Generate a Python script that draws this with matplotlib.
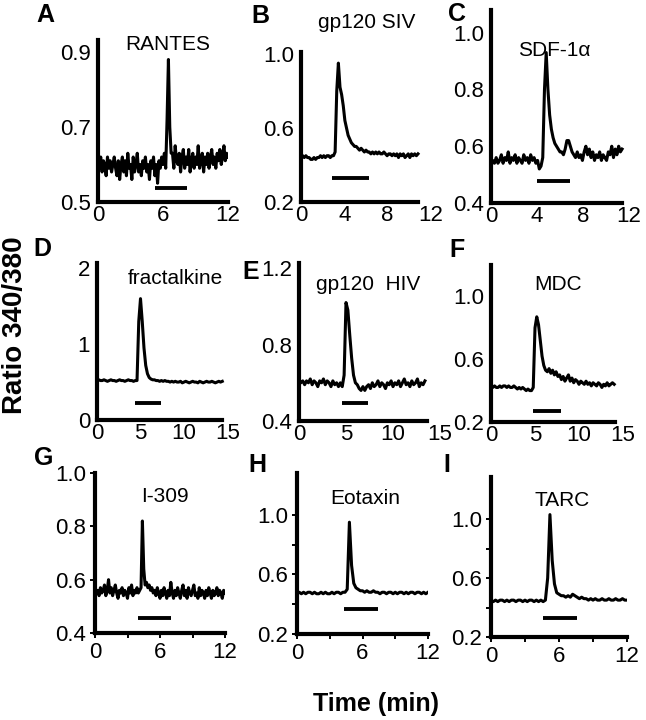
import numpy as np
import matplotlib
matplotlib.use("Agg")
import matplotlib.pyplot as plt

plt.rcParams['font.family'] = ['Liberation Sans', 'DejaVu Sans']

W, H = 646, 720

# ---------------- data (ratio 340/380 traces; uniform sampling step in min) ----------------
a_step = 0.125
a_ratio = [0.64,0.59,0.62,0.58,0.61,0.60,0.57,0.62,0.59,0.61,0.58,0.60,0.62,0.59,0.57,0.61,
           0.56,0.60,0.62,0.58,0.61,0.57,0.63,0.59,0.60,0.56,0.62,0.58,0.60,0.63,0.58,0.60,
           0.57,0.61,0.59,0.62,0.58,0.60,0.56,0.61,0.59,0.62,0.57,0.60,0.55,0.61,0.59,0.62,
           0.60,0.63,0.59,0.72,0.88,0.70,0.63,0.63,0.59,0.65,0.61,0.60,0.63,0.58,0.62,0.64,
           0.59,0.62,0.60,0.64,0.58,0.61,0.63,0.59,0.62,0.60,0.65,0.59,0.61,0.63,0.58,0.62,
           0.60,0.63,0.59,0.62,0.64,0.60,0.62,0.59,0.63,0.61,0.64,0.60,0.62,0.65,0.61,0.63,0.62]

b_step = 0.15
b_ratio = [0.45,0.45,0.44,0.45,0.44,0.44,0.43,0.43,0.44,0.43,0.44,0.44,0.45,0.44,0.45,0.44,0.45,0.45,0.44,0.45,0.45,
           0.47,0.80,0.95,0.82,0.78,0.72,0.64,0.60,0.56,0.54,0.52,0.51,0.50,0.50,0.49,0.48,0.49,0.48,0.47,
           0.48,0.47,0.47,0.46,0.47,0.46,0.47,0.46,0.47,0.46,0.46,0.47,0.46,0.45,0.46,0.46,0.45,0.46,0.45,0.46,
           0.44,0.46,0.45,0.46,0.44,0.45,0.46,0.44,0.46,0.45,0.46,0.45,0.46]

c_step = 0.15
c_ratio = [0.53,0.55,0.54,0.56,0.54,0.55,0.57,0.54,0.56,0.55,0.58,0.54,0.56,0.55,0.57,0.54,0.56,0.55,0.54,0.57,
           0.55,0.56,0.54,0.57,0.55,0.56,0.54,
           0.55,0.52,0.53,0.56,0.80,0.93,0.80,0.71,0.66,0.63,0.61,0.60,0.59,0.58,0.58,0.57,0.59,0.62,0.62,0.60,0.58,
           0.57,0.56,0.58,0.56,0.57,0.55,0.58,0.60,0.57,0.59,0.56,0.58,0.55,0.57,0.56,0.58,0.55,0.57,0.56,0.55,
           0.58,0.57,0.60,0.56,0.59,0.57,0.60,0.58,0.59]

d_step = 0.2
d_ratio = [0.52,0.53,0.52,0.52,0.53,0.52,0.51,0.52,0.53,0.52,0.52,0.51,0.52,0.53,0.52,0.52,0.51,0.52,0.53,0.52,
           0.52,0.51,0.52,
           0.52,1.30,1.60,1.30,0.95,0.72,0.61,0.56,0.54,0.53,
           0.53,0.52,0.52,0.51,0.52,0.51,0.52,0.51,0.51,0.50,0.51,0.50,0.51,0.50,0.50,0.51,0.49,0.50,0.51,0.50,
           0.49,0.50,0.51,0.50,0.50,0.49,0.51,0.50,0.49,0.50,0.51,0.50,0.50,0.51,0.50,0.49,0.50,0.51,0.50,0.51]

e_step = 0.2
e_ratio = [0.62,0.60,0.61,0.59,0.61,0.60,0.62,0.59,0.61,0.60,0.58,0.61,0.60,0.62,0.59,0.61,0.60,0.58,0.61,0.59,
           0.60,0.58,0.60,
           0.58,0.64,1.02,0.98,0.85,0.73,0.64,0.60,0.59,0.57,0.56,0.58,0.56,
           0.58,0.59,0.57,0.60,0.58,0.59,0.61,0.58,0.60,0.59,0.57,0.60,0.59,0.61,0.58,0.60,0.59,0.61,0.58,0.60,
           0.62,0.59,0.60,0.58,0.61,0.59,0.60,0.62,0.58,0.60,0.59,0.61]

f_step = 0.2
f_ratio = [0.43,0.42,0.43,0.42,0.42,0.43,0.42,0.43,0.43,0.42,0.43,0.42,0.42,0.43,0.42,0.41,0.42,0.41,0.42,0.41,
           0.40,0.41,0.40,0.40,
           0.42,0.80,0.87,0.82,0.72,0.62,0.56,0.53,0.52,0.54,0.51,0.53,0.50,0.52,0.49,0.50,
           0.47,0.49,0.46,0.48,0.50,0.46,0.48,0.45,0.47,0.46,0.44,0.46,0.45,0.44,0.46,0.44,0.45,0.43,0.45,0.44,
           0.43,0.45,0.44,0.42,0.44,0.43,0.45,0.43,0.44,0.45,0.44]

g_step = 0.125
g_ratio = [0.57,0.55,0.56,0.54,0.57,0.55,0.56,0.58,0.54,0.56,0.60,0.55,0.57,0.54,0.56,0.58,0.55,0.53,0.56,0.55,
           0.57,0.54,0.56,0.55,0.53,0.57,0.55,0.58,0.54,0.56,0.55,0.57,
           0.55,0.56,0.57,0.82,0.64,0.58,0.59,0.57,
           0.58,0.56,0.57,0.55,0.56,0.54,0.57,0.55,0.53,0.56,0.54,0.57,0.55,0.53,0.56,0.54,0.59,0.55,0.53,0.56,
           0.54,0.57,0.55,0.53,0.56,0.58,0.54,0.56,0.53,0.57,0.55,0.54,0.56,0.58,0.54,0.55,0.53,0.57,0.54,0.56,
           0.55,0.53,0.56,0.54,0.57,0.55,0.53,0.56,0.54,0.55,0.57,0.54,0.56,0.55,0.53,0.56,0.55]

h_step = 0.2
h_ratio = [0.48,0.48,0.47,0.48,0.47,0.48,0.48,0.47,0.48,0.47,0.47,0.48,0.47,0.48,0.47,0.47,0.48,0.47,0.48,0.48,
           0.47,0.48,0.48,
           0.50,0.95,0.66,0.54,0.51,0.50,0.49,
           0.49,0.48,0.49,0.48,0.48,0.49,0.48,0.48,0.47,0.48,0.48,0.47,0.48,0.48,0.47,0.48,0.47,0.48,0.48,0.47,
           0.48,0.47,0.48,0.48,0.47,0.48,0.48,0.47,0.48,0.47,0.48]

i_step = 0.2
i_ratio = [0.44,0.44,0.45,0.44,0.45,0.45,0.44,0.45,0.44,0.45,0.45,0.44,0.45,0.45,0.44,0.45,0.44,0.45,0.45,0.44,
           0.45,0.44,0.45,0.44,0.45,
           0.60,1.03,0.72,0.56,0.50,
           0.49,0.48,0.48,0.47,0.48,0.47,0.49,0.48,0.47,0.46,0.47,0.46,0.46,0.45,0.46,0.45,0.46,0.45,0.45,0.46,
           0.45,0.45,0.46,0.45,0.45,0.46,0.45,0.45,0.46,0.45,0.45]

# stimulus bars: (start min, end min, y level)
stim_bars = {
    'A': (5.26, 8.2, 0.537), 'B': (2.9, 6.3, 0.33), 'C': (4.0, 6.9, 0.478),
    'D': (4.4, 7.4, 0.22), 'E': (4.6, 7.3, 0.494), 'F': (4.8, 8.0, 0.27),
    'G': (4.0, 7.0, 0.457), 'H': (4.3, 7.4, 0.37), 'I': (4.6, 7.6, 0.33),
}

titles = {'A': 'RANTES', 'B': 'gp120 SIV', 'C': 'SDF-1\u03b1', 'D': 'fractalkine',
          'E': 'gp120  HIV', 'F': 'MDC', 'G': 'I-309', 'H': 'Eotaxin', 'I': 'TARC'}

yticks = {'A': ([0.5, 0.7, 0.9], ['0.5', '0.7', '0.9']),
          'B': ([0.2, 0.6, 1.0], ['0.2', '0.6', '1.0']),
          'C': ([0.4, 0.6, 0.8, 1.0], ['0.4', '0.6', '0.8', '1.0']),
          'D': ([0, 1, 2], ['0', '1', '2']),
          'E': ([0.4, 0.8, 1.2], ['0.4', '0.8', '1.2']),
          'F': ([0.2, 0.6, 1.0], ['0.2', '0.6', '1.0']),
          'G': ([0.4, 0.6, 0.8, 1.0], ['0.4', '0.6', '0.8', '1.0']),
          'H': ([0.2, 0.6, 1.0], ['0.2', '0.6', '1.0']),
          'I': ([0.2, 0.6, 1.0], ['0.2', '0.6', '1.0'])}

xticks = {'A': [0, 6, 12], 'B': [0, 4, 8, 12], 'C': [0, 4, 8, 12],
          'D': [0, 5, 10, 15], 'E': [0, 5, 10, 15], 'F': [0, 5, 10, 15],
          'G': [0, 6, 12], 'H': [0, 6, 12], 'I': [0, 6, 12]}

traces = {'A': (a_step, a_ratio), 'B': (b_step, b_ratio), 'C': (c_step, c_ratio),
          'D': (d_step, d_ratio), 'E': (e_step, e_ratio), 'F': (f_step, f_ratio),
          'G': (g_step, g_ratio), 'H': (h_step, h_ratio), 'I': (i_step, i_ratio)}

# ---------------- layout (pixels) ----------------
# x0, x1, y_bottom, y_top, xlim, ylim, x-spine end
layout = {
    'A': (98, 228, 202, 40, (0, 12), (0.5, 0.932), 12),
    'B': (301, 431, 202, 52, (0, 12), (0.2, 1.01), 10.8),
    'C': (491, 629, 203, 10, (0, 12), (0.4, 1.08), 11.4),
    'D': (97, 227.5, 420, 263, (0, 15), (0, 2.07), 14.4),
    'E': (299, 440, 421, 263, (0, 15), (0.4, 1.227), 13.6),
    'F': (491, 623, 422, 265, (0, 15), (0.2, 1.2), 14.1),
    'G': (95, 225, 633, 473, (0, 12), (0.4, 1.0), 12),
    'H': (297, 428, 634, 473, (0, 12), (0.2, 1.28), 12),
    'I': (491, 627, 637, 477, (0, 12), (0.2, 1.285), 12),
}

letter_pos = {'A': (45, 15), 'B': (260, 16), 'C': (457, 14), 'D': (42, 249), 'E': (251, 272),
              'F': (457, 250), 'G': (44, 458), 'H': (257, 465), 'I': (447, 465)}
title_pos = {'A': (168, 44), 'B': (367, 22), 'C': (554, 50), 'D': (175, 279), 'E': (368, 285),
             'F': (558, 285), 'G': (165, 497), 'H': (365, 498), 'I': (562, 500)}

fig = plt.figure(figsize=(W / 100, H / 100), dpi=100)
fig.patch.set_facecolor('white')

for key, (x0, x1, yb, yt, xl, yl, xend) in layout.items():
    ax = fig.add_axes([x0 / W, 1 - yb / H, (x1 - x0) / W, (yb - yt) / H])
    step, vals = traces[key]
    t = np.arange(len(vals)) * step
    ax.plot(t, vals, color='black', lw=2.2, solid_joinstyle='round')
    s, e, yv = stim_bars[key]
    ax.plot([s, e], [yv, yv], color='black', lw=2.8, solid_capstyle='butt')
    ax.set_xlim(*xl)
    ax.set_ylim(*yl)
    for sp in ('top', 'right'):
        ax.spines[sp].set_visible(False)
    for sp in ('left', 'bottom'):
        ax.spines[sp].set_linewidth(3.0)
    ax.spines['bottom'].set_bounds(0, xend)
    yt_v, yt_l = yticks[key]
    ax.set_yticks(yt_v)
    ax.set_yticklabels(yt_l)
    xv = xticks[key]
    if key in ('G', 'H', 'I'):
        ax.set_xticks([0, 3, 6, 9, 12])
        ax.set_xticklabels(['0', '', '6', '', '12'])
        ax.tick_params(axis='both', which='both', direction='out', length=3.5, width=1.4,
                       labelsize=16, pad=3)
        if key in ('H', 'I'):
            ax.set_yticks([0.4, 0.8], minor=True)
    else:
        ax.set_xticks(xv)
        ax.set_xticklabels([str(v) for v in xv])
        ax.tick_params(axis='both', which='both', length=0, labelsize=16, pad=5)
        ax.tick_params(axis='x', pad=2)
    for lab in ax.get_xticklabels() + ax.get_yticklabels():
        lab.set_clip_on(False)
    ax.patch.set_alpha(0)

    lx, ly = letter_pos[key]
    fig.text(lx / W, 1 - ly / H, key, fontsize=18, fontweight='bold', ha='center', va='center')
    tx, ty = title_pos[key]
    fig.text(tx / W, 1 - ty / H, titles[key], fontsize=15, ha='center', va='center')

fig.text(15 / W, 1 - 325 / H, 'Ratio 340/380', fontsize=20, fontweight='bold',
         rotation=90, ha='center', va='center')
fig.text(376 / W, 1 - 704 / H, 'Time (min)', fontsize=18, fontweight='bold',
         ha='center', va='center')

fig.savefig('out.png', dpi=100, facecolor='white')
